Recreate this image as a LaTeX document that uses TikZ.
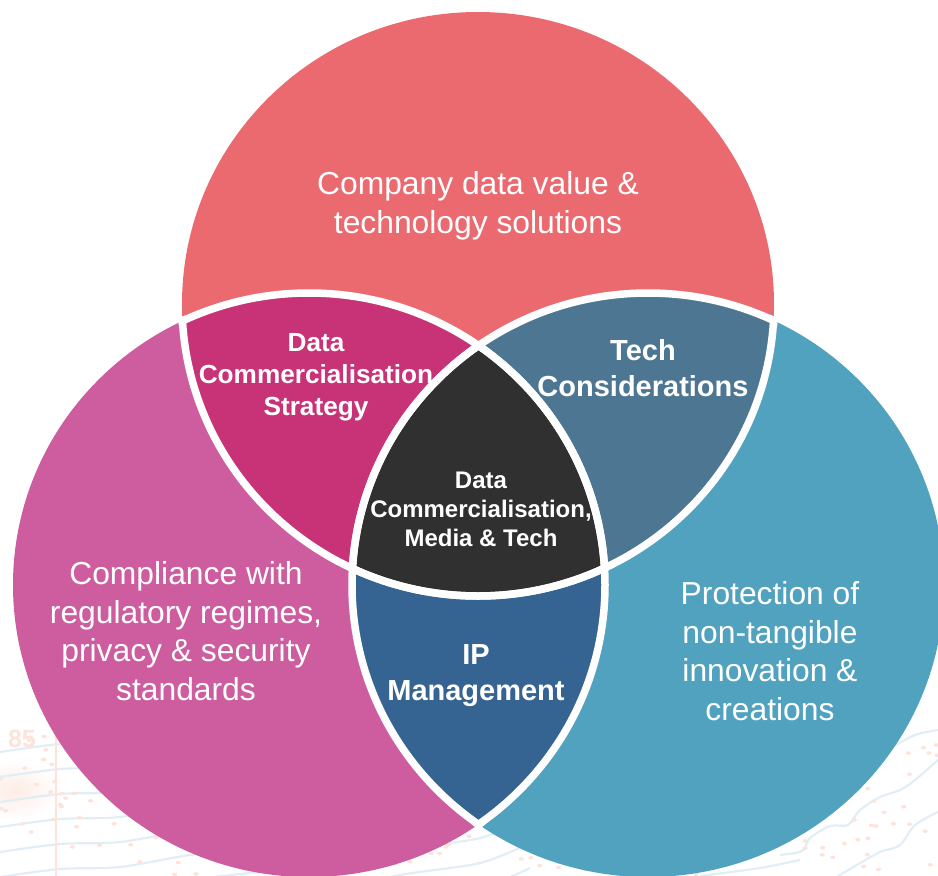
\documentclass[tikz,border=0pt]{standalone}
\usepackage{fontspec}
\setmainfont{Liberation Sans}
\definecolor{cRed}{HTML}{EB6A70}
\definecolor{cPink}{HTML}{CD5D9F}
\definecolor{cTeal}{HTML}{51A2BE}
\definecolor{cMag}{HTML}{C83276}
\definecolor{cSteel}{HTML}{4C7692}
\definecolor{cDark}{HTML}{303030}
\definecolor{cBlue}{HTML}{356493}
\definecolor{cWave}{HTML}{E2EEF5}
\definecolor{cDot}{HTML}{FDE3DA}
\def\pT{(478,304) ellipse [x radius=296pt,y radius=292pt]}
\def\pL{(309,585) ellipse [x radius=296pt,y radius=292pt]}
\def\pR{(648,585) ellipse [x radius=296pt,y radius=292pt]}
\def\pTx{(478,304) ellipse [x radius=300pt,y radius=296pt]}
\def\pLx{(309,585) ellipse [x radius=300pt,y radius=296pt]}
\def\pRx{(648,585) ellipse [x radius=300pt,y radius=296pt]}
\tikzset{
  wave/.style={draw=cWave,line width=2.2pt,smooth,line join=round},
  gap/.style={draw=white,line width=7.5pt},
  big/.style={text=white,align=center,font=\fontsize{31.8}{38.5}\selectfont},
  midlab/.style={text=white,align=center,font=\bfseries\fontsize{29}{36}\selectfont},
  smalllab/.style={text=white,align=center,font=\bfseries\fontsize{26.2}{32}\selectfont},
  corelab/.style={text=white,align=center,font=\bfseries\fontsize{24}{29}\selectfont},
}
\begin{document}
\begin{tikzpicture}[x=1pt,y=-1pt]
\useasboundingbox (0,0) rectangle (938,876);
\clip (0,0) rectangle (938,876);
% faint background pattern
\shade[inner color=cDot!70,outer color=white] (15,790) ellipse [x radius=45pt,y radius=30pt];
\foreach \o in {0,25,...,225}{
  \draw[wave,shift={(0,\o)}] plot coordinates {(0,752) (60,744) (120,742) (190,730) (260,722) (330,716) (400,700) (480,688) (530,668)};
}
\draw[wave] plot coordinates {(780,855) (802,851) (810,838) (830,826) (848,825) (860,810) (880,797) (900,790) (915,780) (938,760)};
\draw[wave] plot coordinates {(838,876) (862,862) (880,852) (900,845) (915,825) (938,812)};
\draw[wave] plot coordinates {(870,760) (887,750) (915,735) (938,730)};
\draw[wave] plot coordinates {(700,876) (760,868) (800,860)};
\draw[cDot,line width=1.6pt] (56,735) -- (56,876);
\node[text=cDot,font=\bfseries\fontsize{25}{25}\selectfont] (bgmark) at (22,739) {85};
\pgfmathsetseed{4242}
\foreach \i in {1,...,230}{
  \pgfmathsetmacro{\dx}{rnd*938}
  \pgfmathsetmacro{\dy}{730+rnd*146}
  \fill[cDot] (\dx,\dy) ellipse [x radius=2.6pt,y radius=1.8pt];
}
% the three circles
\fill[cRed] \pT;
\fill[cPink] \pL;
\fill[cTeal] \pR;
% two-way overlaps
\begin{scope}\clip \pT; \fill[cMag] \pL; \end{scope}
\begin{scope}\clip \pT; \fill[cSteel] \pR; \end{scope}
\begin{scope}\clip \pL; \fill[cBlue] \pR; \end{scope}
% centre
\begin{scope}\clip \pT; \clip \pL; \fill[cDark] \pR; \end{scope}
% white outlines of the overlaps
\begin{scope}\clip \pLx; \draw[gap] \pT; \end{scope}
\begin{scope}\clip \pRx; \draw[gap] \pT; \end{scope}
\begin{scope}\clip \pTx; \draw[gap] \pL; \end{scope}
\begin{scope}\clip \pRx; \draw[gap] \pL; \end{scope}
\begin{scope}\clip \pTx; \draw[gap] \pR; \end{scope}
\begin{scope}\clip \pLx; \draw[gap] \pR; \end{scope}
% labels
\node[big] (top) at (478,206) {Company data value \&\\technology solutions};
\node[big] (left) at (186,631) {Compliance with\\regulatory regimes,\\privacy \& security\\standards};
\node[big] (right) at (770,651) {Protection of\\non-tangible\\innovation \&\\creations};
\node[smalllab] (tl) at (316,377) {Data\\Commercialisation\\Strategy};
\node[midlab] (tr) at (643,368) {Tech\\Considerations};
\node[midlab] (bm) at (476,676) {IP\\Management};
\node[corelab] (core) at (481,509) {Data\\Commercialisation,\\Media \& Tech};
\end{tikzpicture}
\end{document}
